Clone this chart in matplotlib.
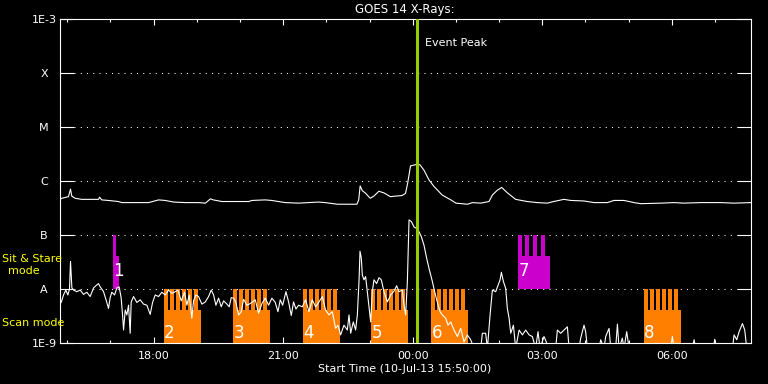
import numpy as np
import pandas as pd
import matplotlib
matplotlib.use('Agg')
import matplotlib.pyplot as plt
import matplotlib.dates as mdates
from matplotlib.ticker import NullLocator

# GOES 14 X-ray flux (minutes after 15:50, log10 W/m^2)
long_min = [0, 2.5, 11.8, 14.6, 16.4, 21, 30, 53.5, 55, 58, 67, 81, 86, 104.5, 123, 137, 146,
            158, 174, 192.5, 202, 209, 213, 225, 248, 262, 267, 285, 294, 313, 331.5, 359,
            368.6, 385, 412.5, 415, 417, 420, 424, 431, 436, 443, 450, 459, 466, 475, 480,
            483, 487, 496.5, 500, 505.7, 512.6, 519.5, 531, 543, 550, 566, 573, 584.5, 596,
            600.7, 607.6, 613.7, 621.6, 633, 649, 663, 677, 686, 700, 709.6, 728, 742, 760.5,
            769.7, 783.6, 797.5, 806.8, 834.6, 853, 867, 890, 918, 936.5, 960]
long_log = [-6.34, -6.32, -6.29, -6.15, -6.28, -6.32, -6.34, -6.34, -6.30, -6.35, -6.36, -6.38,
            -6.40, -6.40, -6.40, -6.35, -6.36, -6.39, -6.40, -6.40, -6.41, -6.33, -6.35, -6.38,
            -6.38, -6.38, -6.36, -6.35, -6.36, -6.40, -6.41, -6.39, -6.40, -6.43, -6.43, -6.35,
            -6.09, -6.18, -6.22, -6.32, -6.28, -6.19, -6.22, -6.29, -6.28, -6.27, -6.23, -6.04,
            -5.72, -5.69, -5.70, -5.80, -5.98, -6.10, -6.26, -6.35, -6.41, -6.43, -6.40, -6.41,
            -6.38, -6.26, -6.17, -6.12, -6.22, -6.34, -6.38, -6.40, -6.41, -6.38, -6.34, -6.36,
            -6.37, -6.40, -6.40, -6.36, -6.36, -6.40, -6.42, -6.41, -6.40, -6.41, -6.40, -6.40,
            -6.41, -6.40]

short_min = [1.6, 4.9, 8.1, 10.9, 13.2, 14.6, 16.5, 18.8, 23.4, 28.0, 32.7, 37.3, 41.9, 46.6,
             49.8, 53.5, 55.8, 60.5, 65.1, 67.4, 69.7, 72.0, 75.8, 79.0, 82.2, 85.0, 86.9, 88.3,
             90.6, 92.9, 95.2, 97.5, 98.9, 102.2, 106.8, 111.4, 116.1, 120.7, 125.3, 128.6,
             132.3, 136.9, 141.5, 146.2, 150.8, 155.4, 160.1, 163.8, 168.4, 173.0, 176.3,
             179.5, 183.2, 185.5, 188.8, 192.5, 197.1, 201.8, 206.4, 210.1, 213.4, 216.6,
             220.3, 224.0, 227.3, 231.9, 235.1, 237.9, 241.2, 244.4, 248.1, 251.8, 255.1,
             259.7, 264.3, 271.3, 275.9, 280.5, 285.2, 289.8, 294.4, 299.1, 302.8, 306.0,
             309.3, 313.9, 317.6, 321.3, 324.5, 327.8, 331.5, 336.6, 341.2, 345.9, 350.5,
             355.1, 359.8, 364.4, 369.0, 373.7, 378.3, 382.9, 386.2, 389.9, 394.5, 399.2,
             401.5, 403.8, 407.5, 410.7, 413.1, 415.4, 416.8, 418.6, 420.0, 422.3, 424.6,
             427.0, 429.3, 431.6, 433.9, 436.2, 439.9, 443.2, 446.4, 450.1, 454.8, 459.4,
             464.0, 467.7, 471.0, 475.6, 477.9, 480.2, 482.6, 484.9, 488.1, 491.8, 495.5,
             498.8, 502.0, 505.7, 509.4, 512.7, 517.3, 520.5, 524.3, 528.0, 531.2, 535.8,
             539.1, 542.8, 547.4, 552.1, 556.7, 561.3, 565.9, 570.6, 575.2, 579.8, 584.5,
             586.8, 591.4, 593.8, 597.5, 600.7, 605.3, 608.6, 611.4, 613.2, 616.0, 619.2,
             621.5, 623.9, 626.2, 629.9, 633.1, 637.8, 642.4, 647.0, 651.7, 656.2, 660.8,
             664.1, 666.9, 672.4, 679.4, 688.6, 691.0, 695.6, 700.2, 704.9, 707.2, 721.1,
             723.4, 728.0, 730.3, 732.7, 748.9, 751.2, 755.8, 758.1, 762.8, 765.1, 772.0,
             774.4, 776.7, 781.3, 783.6, 787.3, 790.6, 848.5, 850.8, 853.1, 878.6, 880.9,
             883.2, 907.8, 909.6, 911.5, 934.2, 936.5, 940.2, 943.5, 948.1, 951.3, 954.1, 960]
short_log = [-8.25, -8.11, -8.02, -8.11, -8.00, -7.49, -7.98, -8.02, -8.05, -8.02, -8.10, -8.06,
             -8.14, -7.98, -7.94, -7.90, -7.96, -8.05, -8.25, -8.36, -8.16, -8.06, -8.11, -7.98,
             -7.96, -8.17, -8.48, -8.76, -8.39, -8.48, -8.30, -8.82, -8.24, -8.14, -8.25, -8.20,
             -8.28, -8.30, -8.47, -8.25, -8.11, -8.14, -8.06, -8.11, -8.02, -8.08, -8.05, -8.02,
             -8.22, -8.06, -8.30, -8.11, -8.54, -8.22, -8.11, -8.14, -8.28, -8.24, -8.14, -8.02,
             -8.11, -8.30, -8.17, -8.33, -8.22, -8.28, -8.33, -8.16, -8.17, -8.25, -8.48, -8.42,
             -8.19, -8.30, -8.27, -8.20, -8.45, -8.27, -8.17, -8.30, -8.17, -8.25, -8.42, -8.20,
             -8.30, -8.05, -8.24, -8.49, -8.24, -8.37, -8.30, -8.33, -8.20, -8.42, -8.20, -8.33,
             -8.24, -8.14, -8.39, -8.48, -8.42, -8.73, -8.67, -8.85, -8.67, -8.76, -8.48, -8.82,
             -8.61, -8.76, -8.48, -7.86, -7.30, -7.43, -7.74, -7.83, -7.77, -8.05, -8.33, -8.61,
             -8.05, -7.83, -7.90, -7.79, -7.83, -8.05, -8.24, -8.11, -8.04, -7.94, -8.05, -8.02,
             -8.30, -8.48, -7.86, -6.72, -6.75, -6.85, -6.88, -6.94, -7.03, -7.19, -7.43, -7.62,
             -7.86, -8.05, -8.25, -8.42, -8.48, -8.54, -8.67, -8.61, -8.76, -8.88, -8.73, -8.98,
             -8.85, -8.94, -9.1, -9.1, -9.1, -8.82, -8.82, -9.1, -8.48, -8.02, -8.05, -7.93,
             -7.83, -7.69, -7.86, -7.99, -8.36, -8.54, -8.82, -8.67, -9.1, -8.76, -8.85, -8.76,
             -8.85, -8.88, -9.1, -8.79, -9.1, -8.88, -9.1, -9.1, -8.76, -8.82, -8.76, -8.70,
             -9.1, -9.1, -8.91, -8.67, -8.79, -9.1, -9.1, -8.94, -9.1, -8.88, -8.73, -9.1,
             -9.1, -8.65, -9.1, -8.91, -9.1, -8.79, -9.1, -9.1, -8.88, -9.1, -9.1, -8.94,
             -9.1, -9.1, -8.93, -9.1, -9.1, -8.85, -8.94, -8.79, -8.64, -8.76, -9.1, -9.1]

# IRIS observing blocks (minutes after 15:50)
scan_start = [144, 241, 337, 432, 516, 811]
scan_label = ['2', '3', '4', '5', '6', '8']
scan_length = 51.4
scan_steps = 6
scan_step_every = 8.34
scan_step_length = 5.56

stare_start = [73, 636]
stare_label = ['1', '7']
stare_length = [8.3, 44.5]
stare_steps = [1, 4]
stare_step_every = [10.7, 10.7]
stare_step_length = [4.2, 5.56]

peak_min = 496.5
start = pd.Timestamp('2013-07-10 15:50')


def to_num(minutes):
    return mdates.date2num(start + pd.to_timedelta(np.asarray(minutes, dtype=float), unit='min'))


def draw_block(ax, t0, length, n, every, step_len, low, mid, high, color, label):
    x0 = to_num(t0)
    ax.bar(x0, mid - low, width=length / 1440., bottom=low, align='edge',
           color=color, lw=0, zorder=2)
    teeth = [to_num(t0 + k * every) for k in range(n)]
    ax.bar(teeth, high - mid, width=step_len / 1440., bottom=mid, align='edge',
           color=color, lw=0, zorder=2)
    ylab = 10 ** (np.log10(low) + 0.18 * (np.log10(high) - np.log10(low)))
    if low > 1e-9:
        ylab = 10 ** (np.log10(low) + 0.33)
    ax.text(to_num(t0 + 0.5), ylab, label, color='white', fontsize=12,
            ha='left', va='center', zorder=5)


fig = plt.figure(figsize=(7.68, 3.84), dpi=100, facecolor='black')
ax = fig.add_axes([60 / 768, 1 - 343 / 384, 691 / 768, 324 / 384])
ax.set_facecolor('black')
ax.set_yscale('log')

for lev in [1e-8, 1e-7, 1e-6, 1e-5, 1e-4]:
    ax.axhline(lev, xmin=0.02, xmax=0.98, color='white', lw=0.75,
               linestyle=(0, (1, 5)), zorder=1)

orange = '#ff8000'
magenta = '#cc00cc'
for s, lab in zip(scan_start, scan_label):
    draw_block(ax, s, scan_length, scan_steps, scan_step_every, scan_step_length,
               1e-9, 10 ** -8.39, 1e-8, orange, lab)
for i in range(len(stare_start)):
    draw_block(ax, stare_start[i], stare_length[i], stare_steps[i], stare_step_every[i],
               stare_step_length[i], 1e-8, 10 ** -7.38, 1e-7, magenta, stare_label[i])

ax.plot(to_num(long_min), 10 ** np.array(long_log), color='white', lw=0.8, zorder=3)
ax.plot(to_num(short_min), 10 ** np.array(short_log), color='white', lw=0.8, zorder=3)

peak = to_num(peak_min)
ax.axvline(peak, color='#9acd00', lw=2.2, zorder=4)
ax.text(peak + 10 / 1440., 3.6e-4, 'Event Peak', color='white', fontsize=8,
        ha='left', va='center')

ax.set_xlim(to_num(0), to_num(960))
ax.set_ylim(1e-9, 1e-3)

ax.xaxis.set_major_locator(mdates.HourLocator(byhour=range(0, 24, 3)))
ax.xaxis.set_minor_locator(mdates.HourLocator())
ax.xaxis.set_major_formatter(mdates.DateFormatter('%H:%M'))
ax.tick_params(axis='x', which='major', direction='in', length=4.5, width=0.8,
               top=True, colors='white', labelsize=8, pad=5.5)
ax.tick_params(axis='x', which='minor', direction='in', length=2.2, width=0.8,
               top=True, colors='white')

ax.set_yticks([1e-9, 1e-8, 1e-7, 1e-6, 1e-5, 1e-4, 1e-3])
ax.set_yticklabels(['1E-9', 'A', 'B', 'C', 'M', 'X', '1E-3'])
ax.yaxis.set_minor_locator(NullLocator())
ax.tick_params(axis='y', direction='in', length=10, width=0.8, right=True,
               colors='white', labelsize=8, pad=11.5)
for lab in ax.get_yticklabels():
    lab.set_ha('center')

for sp in ax.spines.values():
    sp.set_color('white')
    sp.set_linewidth(0.8)

fig.text(405 / 768, 1 - 9.5 / 384, 'GOES 14 X-Rays:', color='white', fontsize=8.5,
         ha='center', va='center')
fig.text(405 / 768, 1 - 369 / 384, 'Start Time (10-Jul-13 15:50:00)', color='white',
         fontsize=8, ha='center', va='center')
fig.text(2 / 768, 1 - 259 / 384, 'Sit & Stare', color='yellow', fontsize=8,
         ha='left', va='center')
fig.text(24 / 768, 1 - 271 / 384, 'mode', color='yellow', fontsize=8,
         ha='center', va='center')
fig.text(2 / 768, 1 - 323.5 / 384, 'Scan mode', color='yellow', fontsize=8,
         ha='left', va='center')

fig.savefig('out.png', dpi=100, facecolor='black')
